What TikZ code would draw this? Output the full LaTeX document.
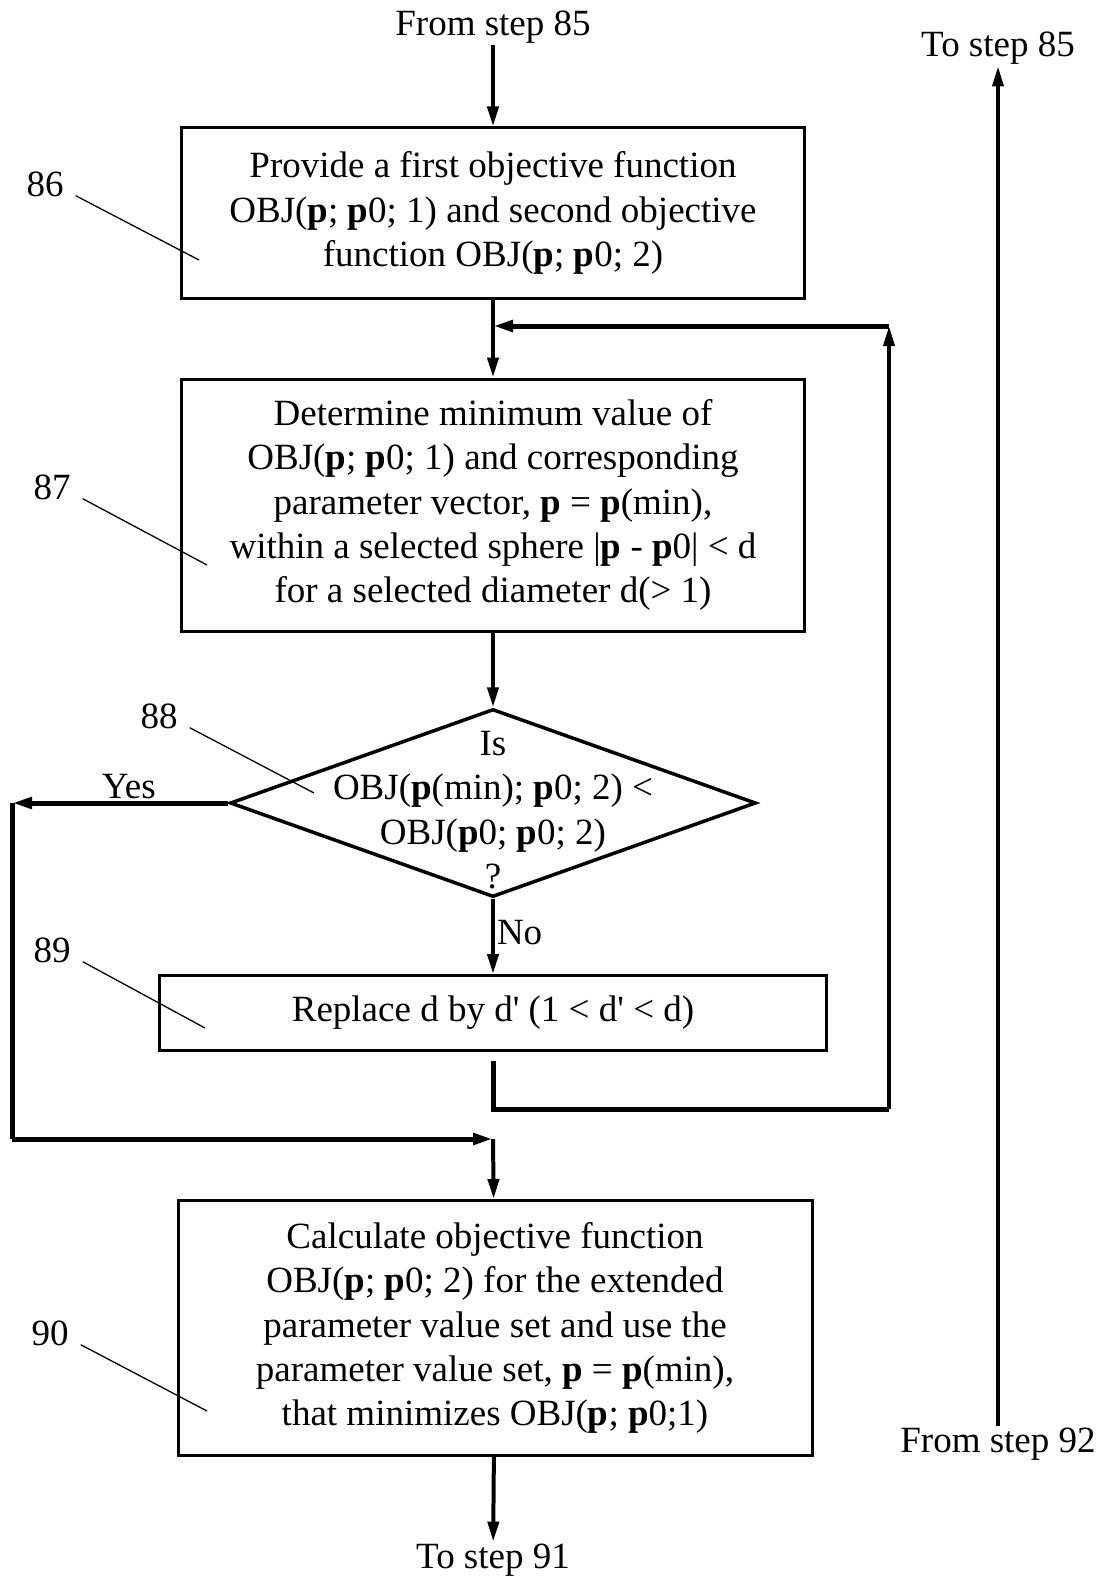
\documentclass[tikz,border=0pt]{standalone}
\usepackage{fontspec}
\setmainfont{Liberation Serif}
\usetikzlibrary{arrows.meta,shapes.geometric}

\tikzset{
  stepbox/.style={draw, line width=3pt, align=center, inner sep=0pt},
  decision/.style={draw, diamond, line width=3.5pt, minimum width=526pt,
    minimum height=188pt, inner sep=0pt},
  plain/.style={inner sep=2pt, align=center},
  flow/.style={line width=4pt, -{Triangle[length=20pt,width=11pt]}},
  loopline/.style={line width=5pt},
  leader/.style={line width=1.3pt},
}

\begin{document}
\begin{tikzpicture}[x=1pt, y=-1pt, font=\fontsize{37}{44.4}\selectfont]
    \useasboundingbox (0, 0) rectangle (1111, 1581);

    % steps
    \node[plain] (from85) at (493, 27) {From step 85};
    \node[stepbox, minimum width=623pt, minimum height=170pt] (s86) at (493, 213)
      {Provide a first objective function\\
       OBJ(\textbf{p}; \textbf{p}0; 1) and second objective\\
       function OBJ(\textbf{p}; \textbf{p}0; 2)};
    \node[stepbox, minimum width=623pt, minimum height=252pt] (s87) at (493, 505)
      {Determine minimum value of\\
       OBJ(\textbf{p}; \textbf{p}0; 1) and corresponding\\
       parameter vector, \textbf{p} = \textbf{p}(min),\\
       within a selected sphere |\textbf{p} - \textbf{p}0| < d\\
       for a selected diameter d(> 1)};
    \node[decision] (s88) at (493, 803) {};
    \node[plain] (q88) at (493, 810)
      {Is\\
       OBJ(\textbf{p}(min); \textbf{p}0; 2) <\\
       OBJ(\textbf{p}0; \textbf{p}0; 2)\\
       ?};
    \node[stepbox, minimum width=667pt, minimum height=75pt] (s89) at (493, 1013)
      {Replace d by d\textquotesingle{} (1 < d\textquotesingle{} < d)};
    \node[stepbox, minimum width=634pt, minimum height=255pt] (s90) at (495, 1328)
      {Calculate objective function\\
       OBJ(\textbf{p}; \textbf{p}0; 2) for the extended\\
       parameter value set and use the\\
       parameter value set, \textbf{p} = \textbf{p}(min),\\
       that minimizes OBJ(\textbf{p}; \textbf{p}0;1)};
    \node[plain] (to91) at (493, 1560) {To step 91};

    \node[plain] (to85) at (998, 48) {To step 85};
    \node[plain] (from92) at (998, 1444) {From step 92};

    % reference numerals
    \node[plain] (l86) at (45, 184) {86};
    \node[plain] (l87) at (52, 487) {87};
    \node[plain] (l88) at (159, 716) {88};
    \node[plain] (l89) at (52, 950) {89};
    \node[plain] (l90) at (50, 1333) {90};
    \coordinate (t86) at (199, 260);
    \coordinate (t87) at (207, 565);
    \coordinate (t88) at (314, 793);
    \coordinate (t89) at (205, 1028);
    \coordinate (t90) at (207, 1411);
    \foreach \n in {86, 87, 88, 89, 90}
      \draw[leader] ([shift={(10,-3)}]l\n.south east) -- (t\n);

    % main flow
    \draw[flow] (from85) -- (s86);
    \draw[flow] (s86) -- (s87);
    \draw[flow] (s87) -- (s88);
    \draw[flow] (s88) -- node[plain, anchor=west, pos=0.45] (no) {No} (s89);
    \draw[flow] (s90) -- (to91);
    \draw[flow, line width=3.5pt] (from92) -- (to85);

    % retry loop
    \coordinate (back) at (493, 1061);
    \coordinate (backr) at (889, 1109);
    \coordinate (backtop) at (889, 326);
    \draw[loopline] (back) |- (backr);
    \draw[flow, line width=3.5pt] (backr) -- (backtop);
    \draw[flow, line width=5pt] (backtop) -- (s86.south |- backtop);

    % yes branch
    \coordinate (yesl) at (12, 803);
    \coordinate (yesb) at (12, 1139);
    \coordinate (join) at (493, 1139);
    \draw[flow, line width=5pt] (s88.west) -- node[plain, above, pos=0.46] (yes) {Yes} (yesl);
    \draw[loopline] (yesl) -- (yesb);
    \draw[flow, line width=5pt] (yesb) -- (join);
    \draw[flow] (join) -- (s90);
\end{tikzpicture}
\end{document}
